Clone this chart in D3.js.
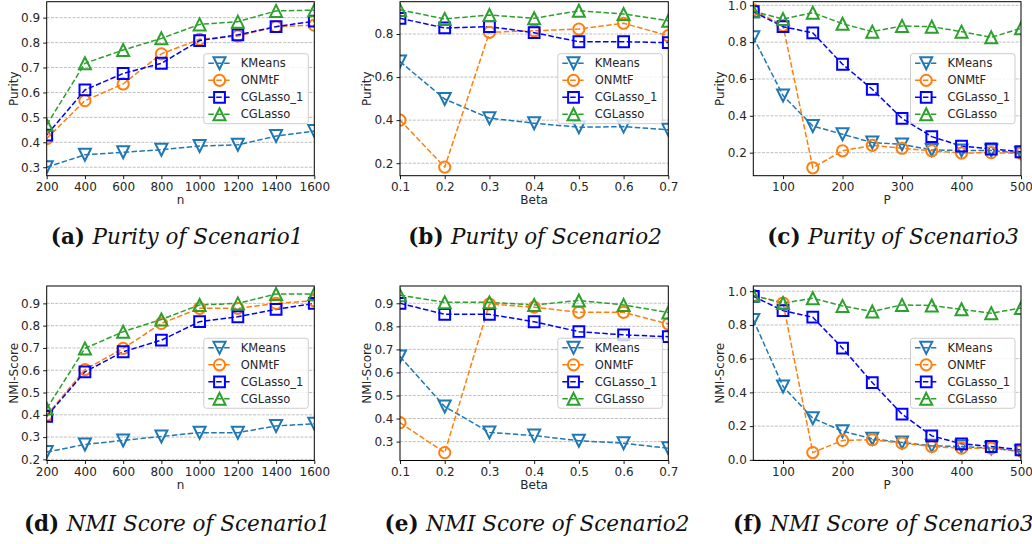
<!DOCTYPE html>
<html>
<head>
<meta charset="utf-8">
<script src="https://cdn.jsdelivr.net/npm/d3@7"></script>
<style>
  html, body { margin: 0; padding: 0; background: #fff; }
  svg { display: block; }
  .tick-label { font-family: "DejaVu Sans", sans-serif; font-size: 12px; fill: #262626; }
  .axis-title { font-family: "DejaVu Sans", sans-serif; font-size: 12px; fill: #262626; }
  .legend-text { font-family: "DejaVu Sans", sans-serif; font-size: 11.5px; fill: #262626; }
  .caption { font-family: "DejaVu Serif", serif; font-size: 21.5px; fill: #111; }
</style>
</head>
<body>
<svg id="fig" width="1032" height="544"></svg>
<script>
// ---- data ----
const methods = ["KMeans", "ONMtF", "CGLasso_1", "CGLasso"];
const nValues = [200, 400, 600, 800, 1000, 1200, 1400, 1600];
const betaValues = [0.1, 0.2, 0.3, 0.4, 0.5, 0.6, 0.7];
const pValues = [50, 100, 150, 200, 250, 300, 350, 400, 450, 500];

// rows follow the order of `methods`
const purityScenario1 = [
  [0.30, 0.35, 0.36, 0.37, 0.385, 0.39, 0.425, 0.445],
  [0.415, 0.567, 0.634, 0.755, 0.813, 0.826, 0.864, 0.870],
  [0.429, 0.610, 0.676, 0.717, 0.808, 0.831, 0.864, 0.886],
  [0.470, 0.717, 0.770, 0.817, 0.873, 0.884, 0.927, 0.930]
];
const purityScenario2 = [
  [0.672, 0.498, 0.409, 0.386, 0.367, 0.370, 0.355],
  [0.400, 0.182, 0.808, 0.815, 0.823, 0.850, 0.792],
  [0.873, 0.828, 0.834, 0.806, 0.764, 0.764, 0.760],
  [0.912, 0.870, 0.888, 0.873, 0.908, 0.893, 0.862]
];
const purityScenario3 = [
  [0.826, 0.510, 0.345, 0.300, 0.255, 0.245, 0.215, 0.212, 0.212, 0.198],
  [0.975, 0.890, 0.118, 0.210, 0.240, 0.224, 0.210, 0.198, 0.200, 0.196],
  [0.965, 0.884, 0.850, 0.680, 0.544, 0.386, 0.287, 0.236, 0.220, 0.205],
  [0.968, 0.925, 0.960, 0.900, 0.857, 0.888, 0.884, 0.857, 0.826, 0.875]
];
const nmiScenario1 = [
  [0.233, 0.267, 0.285, 0.303, 0.320, 0.320, 0.350, 0.360],
  [0.398, 0.603, 0.698, 0.810, 0.878, 0.878, 0.900, 0.912],
  [0.393, 0.593, 0.683, 0.735, 0.818, 0.840, 0.873, 0.900],
  [0.428, 0.698, 0.773, 0.828, 0.893, 0.900, 0.942, 0.942]
];
const nmiScenario2 = [
  [0.669, 0.452, 0.340, 0.326, 0.304, 0.293, 0.271],
  [0.382, 0.252, 0.897, 0.883, 0.861, 0.861, 0.810],
  [0.900, 0.852, 0.852, 0.820, 0.777, 0.763, 0.755],
  [0.935, 0.904, 0.904, 0.893, 0.912, 0.893, 0.860]
];
const nmiScenario3 = [
  [0.830, 0.435, 0.247, 0.170, 0.125, 0.103, 0.083, 0.079, 0.069, 0.049],
  [0.975, 0.930, 0.043, 0.115, 0.119, 0.099, 0.079, 0.069, 0.069, 0.053],
  [0.970, 0.885, 0.846, 0.662, 0.458, 0.271, 0.142, 0.095, 0.079, 0.059],
  [0.975, 0.930, 0.958, 0.913, 0.880, 0.919, 0.915, 0.893, 0.870, 0.900]
];

// ---- tick labels ----
const nTicks = [200, 400, 600, 800, 1000, 1200, 1400, 1600];
const betaTicks = [0.1, 0.2, 0.3, 0.4, 0.5, 0.6, 0.7];
const pTicks = [100, 200, 300, 400, 500];
const purity1Ticks = [0.3, 0.4, 0.5, 0.6, 0.7, 0.8, 0.9];
const purity2Ticks = [0.2, 0.4, 0.6, 0.8];
const purity3Ticks = [0.2, 0.4, 0.6, 0.8, 1.0];
const nmi1Ticks = [0.2, 0.3, 0.4, 0.5, 0.6, 0.7, 0.8, 0.9];
const nmi2Ticks = [0.3, 0.4, 0.5, 0.6, 0.7, 0.8, 0.9];
const nmi3Ticks = [0.0, 0.2, 0.4, 0.6, 0.8, 1.0];

const captionTags = ["(a)", "(b)", "(c)", "(d)", "(e)", "(f)"];
const captionTexts = [
  "Purity of Scenario1", "Purity of Scenario2", "Purity of Scenario3",
  "NMI Score of Scenario1", "NMI Score of Scenario2", "NMI Score of Scenario3"
];

// ---- styling ----
const colors = ["#1f77b4", "#ff7f0e", "#0000ff", "#2ca02c"];
const shapes = ["triDown", "circle", "square", "triUp"];

// ---- layout ----
const columns = [
  { x0: 46.7, x1: 314.3 },
  { x0: 400, x1: 668.3 },
  { x0: 753.3, x1: 1021 }
];
const rows = [
  { y0: 1.7, y1: 175.7, captionY: 244 },
  { y0: 286, y1: 460.5, captionY: 531 }
];
// caption placement: [x, text-anchor]
const captionPos = [
  [177, "middle"], [535, "middle"], [893, "middle"],
  [177, "middle"], [537, "middle"], [733, "start"]
];

const panels = [
  { col: 0, row: 0, xs: nValues, ys: purityScenario1, xDom: [200, 1600], yDom: [0.266, 0.964], xt: nTicks, yt: purity1Ticks, xl: "n", yl: "Purity", xf: d3.format("d") },
  { col: 1, row: 0, xs: betaValues, ys: purityScenario2, xDom: [0.1, 0.7], yDom: [0.142, 0.95], xt: betaTicks, yt: purity2Ticks, xl: "Beta", yl: "Purity", xf: d3.format(".1f") },
  { col: 2, row: 0, xs: pValues, ys: purityScenario3, xDom: [50, 500], yDom: [0.075, 1.0195], xt: pTicks, yt: purity3Ticks, xl: "P", yl: "Purity", xf: d3.format("d") },
  { col: 0, row: 1, xs: nValues, ys: nmiScenario1, xDom: [200, 1600], yDom: [0.195, 0.978], xt: nTicks, yt: nmi1Ticks, xl: "n", yl: "NMI-Score", xf: d3.format("d") },
  { col: 1, row: 1, xs: betaValues, ys: nmiScenario2, xDom: [0.1, 0.7], yDom: [0.218, 0.975], xt: betaTicks, yt: nmi2Ticks, xl: "Beta", yl: "NMI-Score", xf: d3.format(".1f") },
  { col: 2, row: 1, xs: pValues, ys: nmiScenario3, xDom: [50, 500], yDom: [-0.004, 1.031], xt: pTicks, yt: nmi3Ticks, xl: "P", yl: "NMI-Score", xf: d3.format("d") }
];

const svg = d3.select("#fig");

function markerPath(shape) {
  const s = 6;
  switch (shape) {
    case "triDown": return `M${-s},${-s}L${s},${-s}L0,${s}Z`;
    case "triUp": return `M0,${-s}L${s},${s}L${-s},${s}Z`;
    case "square": return `M-5.4,-5.4H5.4V5.4H-5.4Z`;
    default: return d3.arc()({ innerRadius: 0, outerRadius: 5.6, startAngle: 0, endAngle: 2 * Math.PI });
  }
}

panels.forEach((p, i) => {
  const c = columns[p.col], r = rows[p.row];
  const x = d3.scaleLinear().domain(p.xDom).range([c.x0, c.x1]);
  const y = d3.scaleLinear().domain(p.yDom).range([r.y1, r.y0]);
  const g = svg.append("g");

  const clipId = "clip" + i;
  svg.append("clipPath").attr("id", clipId)
    .append("rect").attr("x", c.x0).attr("y", r.y0)
    .attr("width", c.x1 - c.x0).attr("height", r.y1 - r.y0);

  // horizontal grid
  g.append("g").selectAll("line").data(p.yt).join("line")
    .attr("x1", c.x0).attr("x2", c.x1)
    .attr("y1", d => y(d)).attr("y2", d => y(d))
    .attr("stroke", "#b0b0b0").attr("stroke-width", 0.8)
    .attr("stroke-dasharray", "3,1.3");

  // series
  const plot = g.append("g").attr("clip-path", `url(#${clipId})`);
  const line = d3.line().x((d, k) => x(p.xs[k])).y(d => y(d));
  p.ys.forEach((vals, m) => {
    plot.append("path").attr("d", line(vals))
      .attr("fill", "none").attr("stroke", colors[m])
      .attr("stroke-width", 1.5).attr("stroke-dasharray", "5.5,2.4");
  });
  p.ys.forEach((vals, m) => {
    plot.append("g").selectAll("path").data(vals).join("path")
      .attr("transform", (d, k) => `translate(${x(p.xs[k])},${y(d)})`)
      .attr("d", markerPath(shapes[m]))
      .attr("fill", "none").attr("stroke", colors[m]).attr("stroke-width", 2);
  });

  // axes
  const xAxis = d3.axisBottom(x).tickValues(p.xt).tickFormat(p.xf).tickSize(3.5).tickPadding(3);
  const yAxis = d3.axisLeft(y).tickValues(p.yt).tickFormat(d3.format(".1f")).tickSize(3.5).tickPadding(3);
  const gx = g.append("g").attr("transform", `translate(0,${r.y1})`).call(xAxis);
  const gy = g.append("g").attr("transform", `translate(${c.x0},0)`).call(yAxis);
  [gx, gy].forEach(a => {
    a.select(".domain").remove();
    a.selectAll("line").attr("stroke", "#000").attr("stroke-width", 0.9);
    a.selectAll("text").attr("class", "tick-label").attr("fill", null);
  });

  // frame
  g.append("rect").attr("x", c.x0).attr("y", r.y0)
    .attr("width", c.x1 - c.x0).attr("height", r.y1 - r.y0)
    .attr("fill", "none").attr("stroke", "#000").attr("stroke-width", 1);

  // axis titles
  g.append("text").attr("class", "axis-title")
    .attr("x", (c.x0 + c.x1) / 2).attr("y", r.y1 + 28)
    .attr("text-anchor", "middle").text(p.xl);
  g.append("text").attr("class", "axis-title")
    .attr("transform", `translate(${c.x0 - 29},${(r.y0 + r.y1) / 2}) rotate(-90)`)
    .attr("text-anchor", "middle").text(p.yl);

  // legend (center right)
  const lg = g.append("g");
  const box = lg.append("rect").attr("rx", 2.5)
    .attr("fill", "#fff").attr("fill-opacity", 0.8)
    .attr("stroke", "#cccccc").attr("stroke-width", 1);
  const rowH = 17;
  const items = lg.append("g");
  let maxW = 0;
  methods.forEach((name, m) => {
    const it = items.append("g").attr("transform", `translate(0,${m * rowH})`);
    it.append("line").attr("x1", 4.5).attr("x2", 27).attr("y1", 0).attr("y2", 0)
      .attr("stroke", colors[m]).attr("stroke-width", 1.5).attr("stroke-dasharray", "5.5,2.4");
    it.append("path").attr("transform", "translate(15.7,0)").attr("d", markerPath(shapes[m]))
      .attr("fill", "none").attr("stroke", colors[m]).attr("stroke-width", 2);
    const t = it.append("text").attr("class", "legend-text").attr("x", 37).attr("y", 4).text(name);
    maxW = Math.max(maxW, t.node().getComputedTextLength());
  });
  const bw = 37 + maxW + 5, bh = rowH * 3 + 19;
  const bx = c.x1 - 6 - bw, by = (r.y0 + r.y1) / 2 - bh / 2;
  box.attr("x", 0).attr("y", -9.6).attr("width", bw).attr("height", bh);
  lg.attr("transform", `translate(${bx},${by + 9.6})`);

  // caption
  const cap = svg.append("text").attr("class", "caption")
    .attr("x", captionPos[i][0]).attr("y", r.captionY).attr("text-anchor", captionPos[i][1]);
  cap.append("tspan").attr("font-weight", "bold").text(captionTags[i] + " ");
  cap.append("tspan").attr("font-style", "italic").text(captionTexts[i]);
});
</script>
</body>
</html>
